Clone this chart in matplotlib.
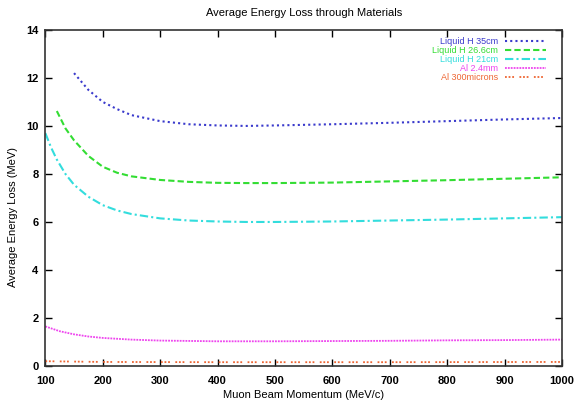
import matplotlib.pyplot as plt

plt.rcParams['font.family'] = ['Liberation Sans', 'DejaVu Sans']

# momentum (MeV/c) and average energy loss (MeV) for each absorber
p_lh35 = [150, 175, 200, 225, 250, 300, 350, 400, 450, 500, 600, 700, 800, 900, 1000]
e_lh35 = [12.2, 11.5, 11.0, 10.7, 10.45, 10.2, 10.07, 10.02, 10.0, 10.02, 10.07, 10.13, 10.2, 10.27, 10.33]

p_lh266 = [120, 135, 150, 175, 200, 225, 250, 300, 350, 400, 450, 500, 600, 700, 800, 900, 1000]
e_lh266 = [10.62, 9.9, 9.4, 8.75, 8.3, 8.05, 7.9, 7.75, 7.67, 7.63, 7.62, 7.62, 7.64, 7.69, 7.74, 7.8, 7.86]

p_lh21 = [100, 110, 120, 135, 150, 175, 200, 225, 250, 300, 350, 400, 450, 500, 600, 700, 800, 900, 1000]
e_lh21 = [9.7, 9.1, 8.6, 8.0, 7.55, 7.05, 6.7, 6.48, 6.33, 6.15, 6.06, 6.02, 6.0, 6.0, 6.02, 6.06, 6.1, 6.15, 6.2]

p_al24 = [100, 125, 150, 175, 200, 250, 300, 400, 500, 600, 700, 800, 900, 1000]
e_al24 = [1.65, 1.45, 1.32, 1.23, 1.17, 1.1, 1.06, 1.03, 1.03, 1.04, 1.05, 1.07, 1.08, 1.1]

p_al300 = [100, 200, 400, 700, 1000]
e_al300 = [0.2, 0.17, 0.16, 0.16, 0.17]

fig = plt.figure(figsize=(5.74, 4.04), dpi=100)
ax = fig.add_axes([0.079, 0.094, 0.900, 0.832])

ax.plot(p_lh35, e_lh35, color='#3a3acc', lw=1.5, ls=(0, (1, 1.5)), label='Liquid H 35cm')
ax.plot(p_lh266, e_lh266, color='#33dd33', lw=1.5, ls=(0, (3, 1.5)), label='Liquid H 26.6cm')
ax.plot(p_lh21, e_lh21, color='#33dddd', lw=1.5, ls=(0, (4, 1.5, 1, 1.5)), label='Liquid H 21cm')
ax.plot(p_al24, e_al24, color='#ee44ee', lw=1.3, ls=(0, (1, 0.6)), label='Al 2.4mm')
ax.plot(p_al300, e_al300, color='#ee6633', lw=1.3, ls=(0, (1, 1, 1, 1, 1, 3)), label='Al 300microns')

ax.set_xlim(100, 1000)
ax.set_ylim(0, 14)
ax.set_xticks(range(100, 1001, 100))
ax.set_yticks(range(0, 15, 2))
ax.tick_params(direction='in', top=True, right=True, length=5, width=1, labelsize=8)
ax.tick_params(axis='x', pad=7)
ax.tick_params(axis='y', pad=5)
for lbl in ax.get_xticklabels() + ax.get_yticklabels():
    lbl.set_fontweight('bold')
for s in ax.spines.values():
    s.set_color('#333333')
    s.set_linewidth(1.2)

ax.set_xlabel('Muon Beam Momentum (MeV/c)', fontsize=8, labelpad=3)
ax.set_ylabel('Average Energy Loss (MeV)', fontsize=8)
ax.yaxis.set_label_coords(-0.052, 0.443)
ax.set_title('Average Energy Loss through Materials', fontsize=8, pad=10)

leg = ax.legend(loc='upper right', frameon=False, markerfirst=False, fontsize=6.5,
                handlelength=4.6, handletextpad=0.7, labelspacing=0.0,
                bbox_to_anchor=(0.985, 1.003))
for txt, line in zip(leg.get_texts(), leg.get_lines()):
    txt.set_color(line.get_color())

fig.savefig('out.png', dpi=100)
